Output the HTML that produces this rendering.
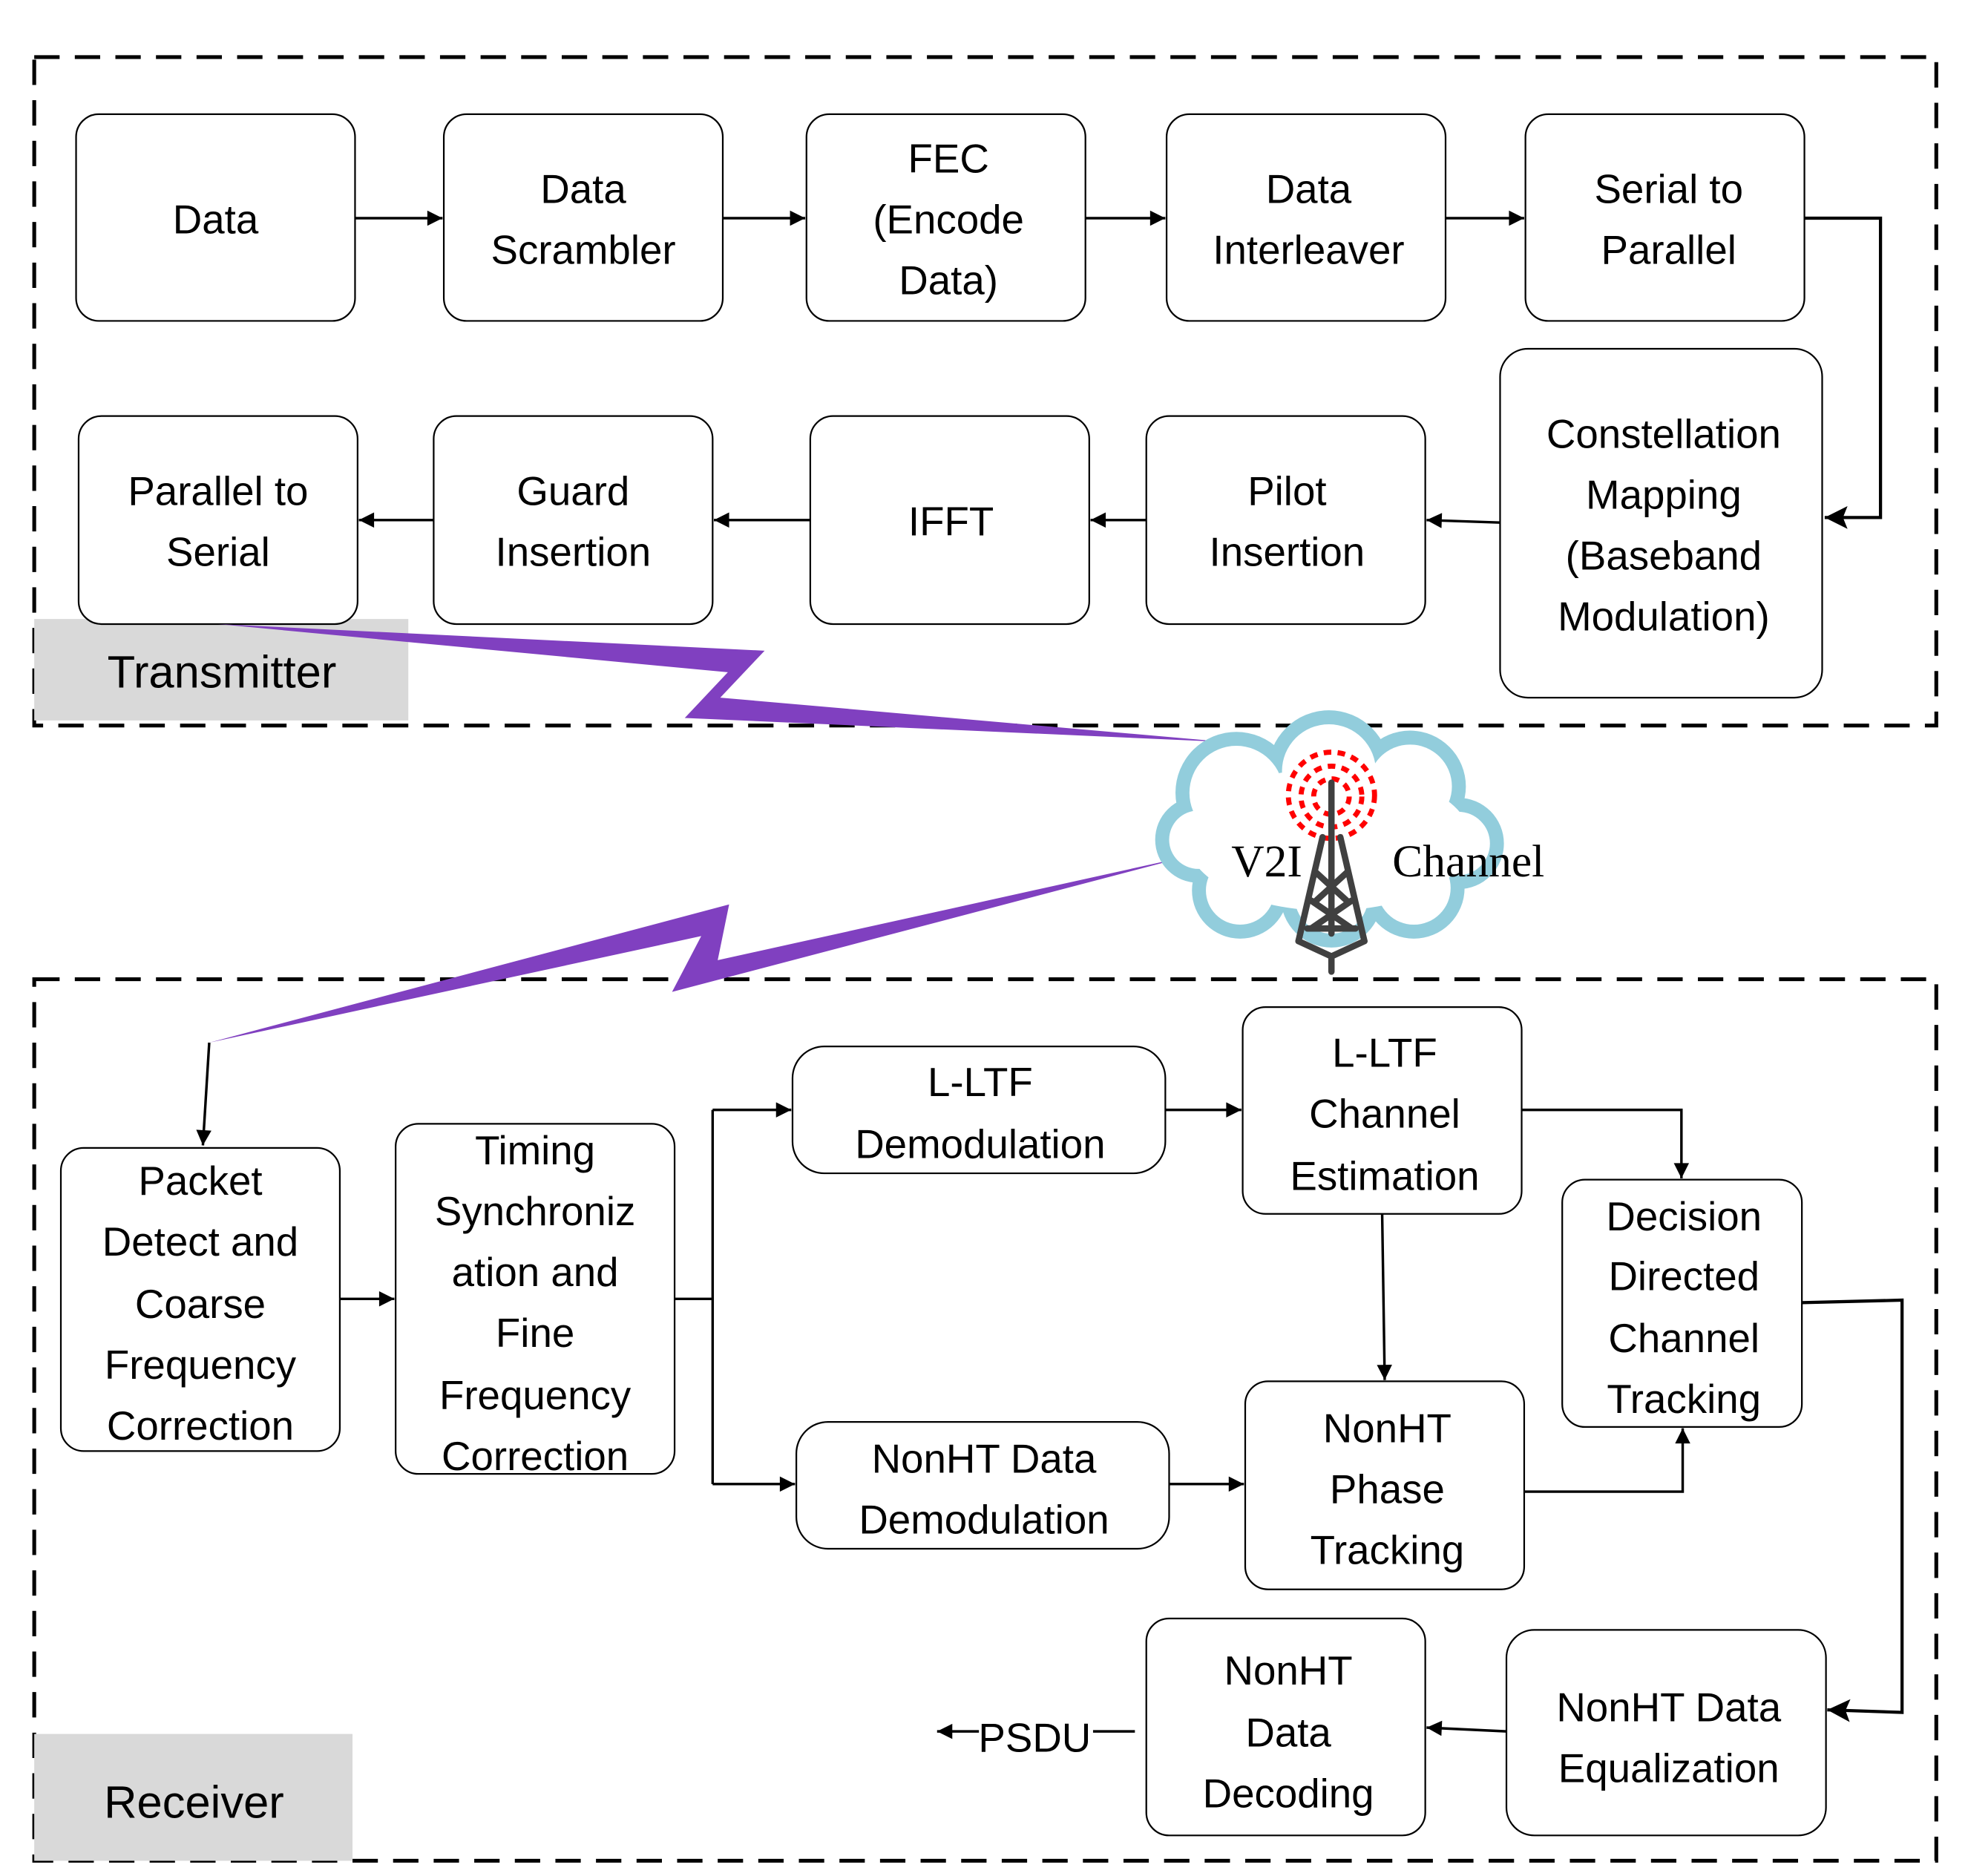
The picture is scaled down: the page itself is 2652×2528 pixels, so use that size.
<!DOCTYPE html>
<html><head><meta charset="utf-8"><style>
html,body{margin:0;padding:0;background:#fff}
svg{display:block}
text{font-family:"Liberation Sans",sans-serif;font-size:32px;fill:#000;text-anchor:middle}
</style></head><body>
<svg width="2652" height="2528" viewBox="0 0 1552 1479" preserveAspectRatio="none" xmlns="http://www.w3.org/2000/svg">
<defs>
<marker id="a" viewBox="0 0 10 10" refX="10" refY="5" markerWidth="13" markerHeight="12" markerUnits="userSpaceOnUse" orient="auto"><path d="M0,0L10,5L0,10z" fill="#000"/></marker>
<marker id="b" viewBox="0 0 10 10" refX="10" refY="5" markerWidth="20" markerHeight="18" markerUnits="userSpaceOnUse" orient="auto"><path d="M0,0L10,5L0,10L2,5z" fill="#000"/></marker>
</defs>
<g fill="none" stroke="#000" stroke-width="3" stroke-dasharray="20,12">
<rect x="27" y="45" width="1500" height="527"/>
<rect x="27" y="772" width="1500" height="695"/>
</g>
<rect x="27" y="488" width="295" height="80" fill="#d9d9d9"/>
<text x="175" y="542" style="font-size:36px">Transmitter</text>
<rect x="27" y="1367" width="251" height="100" fill="#d9d9d9"/>
<text x="153" y="1433" style="font-size:36px">Receiver</text>

<g fill="#fff" stroke="#000" stroke-width="1.3">
<rect x="60" y="90" width="220" height="163" rx="18"/>
<rect x="350" y="90" width="220" height="163" rx="18"/>
<rect x="636" y="90" width="220" height="163" rx="18"/>
<rect x="920" y="90" width="220" height="163" rx="18"/>
<rect x="1203" y="90" width="220" height="163" rx="18"/>
<rect x="1183" y="275" width="254" height="275" rx="22"/>
<rect x="62" y="328" width="220" height="164" rx="18"/>
<rect x="342" y="328" width="220" height="164" rx="18"/>
<rect x="639" y="328" width="220" height="164" rx="18"/>
<rect x="904" y="328" width="220" height="164" rx="18"/>
<rect x="48" y="905" width="220" height="239" rx="18"/>
<rect x="312" y="886" width="220" height="276" rx="18"/>
<rect x="625" y="825" width="294" height="100" rx="25"/>
<rect x="980" y="794" width="220" height="163" rx="18"/>
<rect x="628" y="1121" width="294" height="100" rx="25"/>
<rect x="982" y="1089" width="220" height="164" rx="18"/>
<rect x="1232" y="930" width="189" height="195" rx="18"/>
<rect x="1188" y="1285" width="252" height="162" rx="22"/>
<rect x="904" y="1276" width="220" height="171" rx="18"/>
</g>

<text x="170" y="184">Data</text>
<text x="460" y="160">Data</text><text x="460" y="208">Scrambler</text>
<text x="748" y="136">FEC</text><text x="748" y="184">(Encode</text><text x="748" y="232">Data)</text>
<text x="1032" y="160">Data</text><text x="1032" y="208">Interleaver</text>
<text x="1316" y="160">Serial to</text><text x="1316" y="208">Parallel</text>
<text x="1312" y="353">Constellation</text><text x="1312" y="401">Mapping</text><text x="1312" y="449">(Baseband</text><text x="1312" y="497">Modulation)</text>
<text x="172" y="398">Parallel to</text><text x="172" y="446">Serial</text>
<text x="452" y="398">Guard</text><text x="452" y="446">Insertion</text>
<text x="750" y="422">IFFT</text>
<text x="1015" y="398">Pilot</text><text x="1015" y="446">Insertion</text>
<text x="158" y="942">Packet</text><text x="158" y="990">Detect and</text><text x="158" y="1039">Coarse</text><text x="158" y="1087">Frequency</text><text x="158" y="1135">Correction</text>
<text x="422" y="918">Timing</text><text x="422" y="966">Synchroniz</text><text x="422" y="1014">ation and</text><text x="422" y="1062">Fine</text><text x="422" y="1111">Frequency</text><text x="422" y="1159">Correction</text>
<text x="773" y="864">L-LTF</text><text x="773" y="913">Demodulation</text>
<text x="1092" y="841">L-LTF</text><text x="1092" y="889">Channel</text><text x="1092" y="938">Estimation</text>
<text x="1328" y="970">Decision</text><text x="1328" y="1017">Directed</text><text x="1328" y="1066">Channel</text><text x="1328" y="1114">Tracking</text>
<text x="776" y="1161">NonHT Data</text><text x="776" y="1209">Demodulation</text>
<text x="1094" y="1137">NonHT</text><text x="1094" y="1185">Phase</text><text x="1094" y="1233">Tracking</text>
<text x="1316" y="1357">NonHT Data</text><text x="1316" y="1405">Equalization</text>
<text x="1016" y="1328">NonHT</text><text x="1016" y="1377">Data</text><text x="1016" y="1425">Decoding</text>
<text x="816" y="1381">PSDU</text>

<g fill="none" stroke="#000" stroke-width="2">
<path d="M280,172H349" marker-end="url(#a)"/>
<path d="M570,172H635" marker-end="url(#a)"/>
<path d="M856,172H919" marker-end="url(#a)"/>
<path d="M1140,172H1202" marker-end="url(#a)"/>
<path d="M1423,172H1483V408H1439" stroke-width="2.5" marker-end="url(#b)"/>
<path d="M1183,412L1125,410" marker-end="url(#a)"/>
<path d="M904,410H860" marker-end="url(#a)"/>
<path d="M639,410H563" marker-end="url(#a)"/>
<path d="M342,410H283" marker-end="url(#a)"/>
<path d="M165,822L160,903" marker-end="url(#a)"/>
<path d="M268,1024H311" marker-end="url(#a)"/>
<path d="M532,1024H562"/>
<path d="M562,875V1170"/>
<path d="M562,875H624" marker-end="url(#a)"/>
<path d="M562,1170H627" marker-end="url(#a)"/>
<path d="M919,875H979" marker-end="url(#a)"/>
<path d="M1200,875H1326V929" marker-end="url(#a)"/>
<path d="M1090,957L1092,1088" marker-end="url(#a)"/>
<path d="M922,1170H981" marker-end="url(#a)"/>
<path d="M1202,1176H1327V1126" marker-end="url(#a)"/>
<path d="M1421,1027L1500,1025V1350L1441,1348" stroke-width="2.5" marker-end="url(#b)"/>
<path d="M1188,1365L1125,1362" marker-end="url(#a)"/>
<path d="M895,1365H862"/>
<path d="M772,1365H739" marker-end="url(#a)"/>
</g>

<polygon points="172,492 603,513 568,550 967,585 540,566 574,530" fill="#8040C0"/>
<polygon points="937,675 566,757 575,713 165,822 553,738 530,782" fill="#8040C0"/>

<g fill="#92CDDC">
<circle cx="975" cy="625" r="48"/><circle cx="1048" cy="608" r="48"/><circle cx="1112" cy="620" r="44"/>
<circle cx="1150" cy="665" r="36"/><circle cx="1115" cy="700" r="40"/><circle cx="1050" cy="707" r="40"/>
<circle cx="978" cy="702" r="38"/><circle cx="945" cy="662" r="34"/><circle cx="1040" cy="665" r="50"/>
</g>
<g fill="#fff">
<circle cx="975" cy="625" r="37"/><circle cx="1048" cy="608" r="37"/><circle cx="1112" cy="620" r="33"/>
<circle cx="1150" cy="665" r="25"/><circle cx="1115" cy="700" r="29"/><circle cx="1050" cy="707" r="29"/>
<circle cx="978" cy="702" r="27"/><circle cx="945" cy="662" r="23"/>
<ellipse cx="1048" cy="662" rx="112" ry="56"/>
</g>
<g fill="none" stroke="#f00" stroke-width="4" stroke-dasharray="6,5">
<circle cx="1050" cy="628" r="14"/><circle cx="1050" cy="628" r="24"/><circle cx="1050" cy="627" r="34"/>
</g>
<g stroke="#404040" stroke-width="5" stroke-linecap="round" fill="none">
<path d="M1050,617V660"/>
<path d="M1043,660L1024,742M1057,660L1076,742"/>
<path d="M1024,742L1050,754L1076,742M1050,754V766"/>
<path d="M1038,688L1062,710M1062,688L1038,710M1034,710L1066,732M1066,710L1034,732M1031,732H1069"/>
<path d="M1050,660V736"/>
</g>
<text x="999" y="691" style="font-family:'Liberation Serif',serif;font-size:36px">V2I</text>
<text x="1158" y="691" style="font-family:'Liberation Serif',serif;font-size:36px">Channel</text>
</svg>
</body></html>
